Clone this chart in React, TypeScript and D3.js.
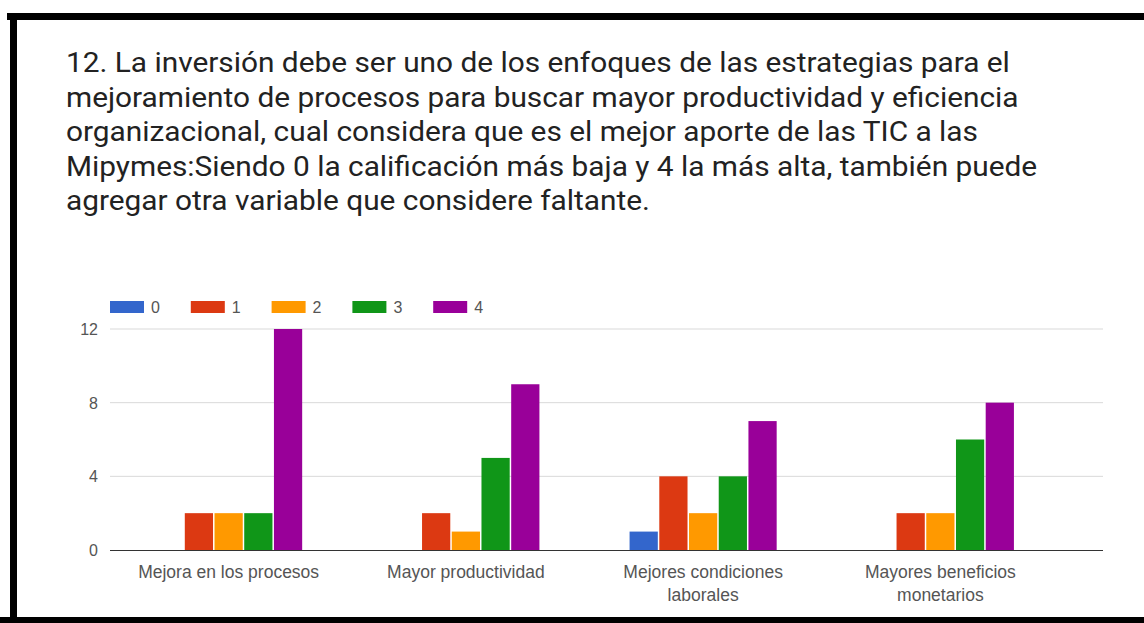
import React from "react";
import * as d3 from "d3";

const titleLines = [
  "12. La inversión debe ser uno de los enfoques de las estrategias para el",
  "mejoramiento de procesos para buscar mayor productividad y eficiencia",
  "organizacional, cual considera que es el mejor aporte de las TIC a las",
  "Mipymes:Siendo 0 la calificación más baja y 4 la más alta, también puede",
  "agregar otra variable que considere faltante.",
];

const categories = [
  ["Mejora en los procesos"],
  ["Mayor productividad"],
  ["Mejores condiciones", "laborales"],
  ["Mayores beneficios", "monetarios"],
];
const seriesNames = ["0", "1", "2", "3", "4"];
const seriesColors = ["#3366cc", "#dc3912", "#ff9900", "#109618", "#990099"];
const values0 = [0, 0, 1, 0];
const values1 = [2, 2, 4, 2];
const values2 = [2, 1, 2, 2];
const values3 = [2, 5, 4, 6];
const values4 = [12, 9, 7, 8];
const seriesValues = [values0, values1, values2, values3, values4];
const yTicks = [0, 4, 8, 12];

export default function App() {
  const W = 1144, H = 623;
  const x0 = d3.scaleBand<number>().domain(d3.range(categories.length)).range([110, 1059]).paddingInner(0.38).paddingOuter(0.19);
  const x1 = d3.scaleBand<number>().domain(d3.range(seriesNames.length)).range([0, x0.bandwidth()]).paddingInner(0.05);
  const y = d3.scaleLinear().domain([0, 12]).range([550, 329]);
  const font = "Arial, 'Liberation Sans', sans-serif";
  return (
    <svg width={W} height={H} style={{ position: "absolute", left: 0, top: 0, background: "#fff" }}>
      <rect x={0} y={0} width={W} height={H} fill="#fff" />
      {/* borders */}
      <rect x={7} y={13} width={W - 7} height={7} fill="#000" />
      <rect x={10} y={13} width={7} height={H - 13} fill="#000" />
      <rect x={0} y={617} width={W} height={6} fill="#000" />
      <g transform="translate(66,0) scale(1.105,1)">
        {titleLines.map((t, i) => (
          <text key={i} x={0} y={72 + i * 34.6} fontFamily="Roboto, sans-serif" fontSize={27} fill="#222">{t}</text>
        ))}
      </g>
      {/* legend */}
      {seriesNames.map((s, i) => (
        <g key={s} transform={`translate(${110 + i * 80.8},0)`}>
          <rect x={0} y={301} width={34} height={12} fill={seriesColors[i]} />
          <text x={41} y={313} fontFamily={font} fontSize={16} fill="#555">{s}</text>
        </g>
      ))}
      {/* gridlines */}
      {yTicks.map((t) => (
        <g key={t}>
          {t !== 0 && <line x1={110} x2={1103} y1={y(t)} y2={y(t)} stroke="#d9d9d9" strokeWidth={1} />}
          <text x={98} y={y(t) + 6} textAnchor="end" fontFamily={font} fontSize={16} fill="#555">{t}</text>
        </g>
      ))}
      {/* bars */}
      {categories.map((c, ci) => (
        <g key={ci} transform={`translate(${x0(ci)},0)`}>
          {seriesValues.map((vals, si) =>
            vals[ci] > 0 ? (
              <rect key={si} x={x1(si)} y={y(vals[ci])} width={x1.bandwidth()} height={550 - y(vals[ci])} fill={seriesColors[si]} />
            ) : null
          )}
          {c.map((line, li) => (
            <text key={li} x={x0.bandwidth() / 2} y={578 + li * 23} textAnchor="middle" fontFamily={font} fontSize={17.5} fill="#555">{line}</text>
          ))}
        </g>
      ))}
      <line x1={110} x2={1103} y1={550.5} y2={550.5} stroke="#333" strokeWidth={1} />
    </svg>
  );
}
